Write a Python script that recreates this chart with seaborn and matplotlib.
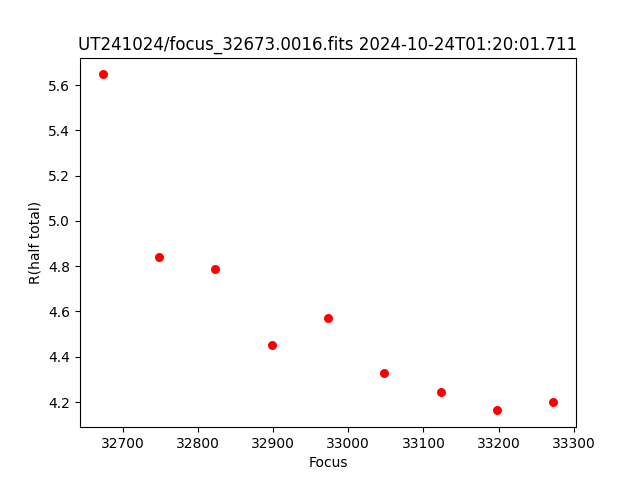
import matplotlib
matplotlib.use('Agg')
import matplotlib.pyplot as plt
import seaborn as sns

# focus positions and half-total radius
focus = [32673, 32748, 32823, 32898, 32973, 33048, 33123, 33198, 33273]
r_half = [5.647, 4.840, 4.787, 4.451, 4.570, 4.328, 4.244, 4.163, 4.200]

fig, ax = plt.subplots(figsize=(6.4, 4.8), dpi=100)
sns.scatterplot(x=focus, y=r_half, color='red', s=42, linewidth=0, ax=ax)
ax.set_xlabel('Focus')
ax.set_ylabel('R(half total)')
ax.set_title('UT241024/focus_32673.0016.fits 2024-10-24T01:20:01.711')
fig.savefig('out.png', dpi=100)
